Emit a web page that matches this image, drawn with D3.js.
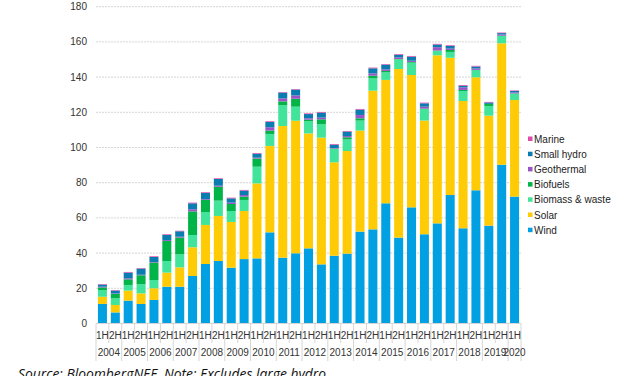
<!DOCTYPE html>
<html lang="en">
<head>
  <meta charset="UTF-8">
  <title>Renewable capacity</title>
  <style>
    body { margin: 0; background: #fff; }
    svg { display: block; font-family: "Liberation Sans", Arial, sans-serif; }
  </style>
</head>
<body>
  <script src="https://d3js.org/d3.v7.min.js"></script>
  <script>
    // data
    const years = ['2004','2005','2006','2007','2008','2009','2010','2011','2012',
      '2013','2014','2015','2016','2017','2018','2019','2020'];
    const halves = years.flatMap(y => y === '2020' ? ['1H'] : ['1H', '2H']);
    const yTicks = [0, 20, 40, 60, 80, 100, 120, 140, 160, 180];

    const wind = [11.1, 6.3, 13.0, 11.1, 13.4, 20.9, 20.9, 27.0, 33.8, 35.5, 31.7, 36.6,
      37.0, 51.8, 37.4, 39.9, 42.7, 33.6, 38.5, 39.7, 52.2, 53.5, 68.3, 48.8, 66.0, 50.7,
      56.9, 73.0, 54.1, 75.7, 55.6, 90.2, 72.1];
    const solar = [4.1, 4.2, 5.7, 6.0, 6.6, 8.0, 11.0, 16.3, 22.2, 25.6, 26.0, 27.3,
      42.6, 49.1, 74.8, 75.3, 65.3, 72.0, 53.1, 58.3, 57.4, 78.8, 70.1, 95.8, 75.2, 64.6,
      95.5, 78.0, 72.3, 64.2, 62.5, 69.0, 54.9];
    const biomass = [3.8, 3.8, 3.2, 5.2, 4.7, 6.6, 7.4, 7.0, 7.3, 8.7, 6.2, 6.3,
      9.5, 6.8, 11.8, 8.0, 6.9, 7.6, 7.6, 6.6, 5.7, 7.0, 4.3, 5.5, 7.0, 6.6,
      2.6, 3.3, 5.7, 4.1, 5.5, 4.2, 3.6];
    const biofuels = [1.5, 2.5, 3.2, 5.1, 9.9, 11.4, 9.5, 13.4, 6.9, 7.9, 4.0, 1.9,
      4.6, 1.9, 2.2, 4.5, 0.9, 2.8, 0.2, 1.2, 1.3, 1.5, 0.8, 0.2, 0.4, 0.2,
      0.1, 1.1, 0.6, 0.1, 1.1, 0.1, 0.1];
    const geothermal = [0.4, 0.3, 0.6, 0.3, 0.3, 0.5, 0.5, 1.2, 0.4, 0.6, 0.8, 0.9,
      0.5, 1.9, 1.7, 1.9, 0.8, 1.0, 0.3, 0.7, 1.9, 1.3, 0.9, 0.9, 0.7, 1.1,
      1.9, 0.8, 1.5, 0.8, 0.1, 0.7, 0.6];
    const smallHydro = [1.2, 1.6, 3.2, 3.5, 2.9, 2.9, 3.1, 3.4, 3.6, 3.8, 2.4, 2.5,
      2.3, 3.0, 3.3, 3.3, 2.4, 2.8, 1.9, 2.5, 3.0, 2.9, 2.7, 1.5, 2.3, 1.9,
      1.5, 1.5, 0.9, 1.1, 0.8, 0.8, 0.8];
    const marine = [0.3, 0.3, 0.4, 0.3, 0.4, 0.4, 0.3, 0.4, 0.4, 0.4, 0.4, 0.4,
      0.4, 0.4, 0.3, 0.3, 0.4, 0.4, 0.4, 0.4, 0.4, 0.4, 0.3, 0.4, 0.4, 0.4,
      0.4, 0.4, 0.4, 0.4, 0.3, 0.3, 0.3];

    const series = [
      { key: 'wind', name: 'Wind', color: '#00a0e2', values: wind },
      { key: 'solar', name: 'Solar', color: '#ffcb05', values: solar },
      { key: 'biomass', name: 'Biomass & waste', color: '#41e49a', values: biomass },
      { key: 'biofuels', name: 'Biofuels', color: '#00b447', values: biofuels },
      { key: 'geothermal', name: 'Geothermal', color: '#9a55c4', values: geothermal },
      { key: 'smallHydro', name: 'Small hydro', color: '#0a7cb0', values: smallHydro },
      { key: 'marine', name: 'Marine', color: '#e04aa8', values: marine }
    ];

    const width = 627, height = 376;
    const plot = { left: 96, right: 521, top: 6.7, bottom: 323.5 };

    const rows = halves.map((h, i) => {
      const r = { i };
      series.forEach(s => r[s.key] = s.values[i]);
      return r;
    });

    const svg = d3.select('body').append('svg')
      .attr('width', width)
      .attr('height', height);

    const xScale = d3.scaleBand()
      .domain(d3.range(halves.length))
      .range([plot.left, plot.right])
      .paddingInner(0.3)
      .paddingOuter(0.15);

    const yScale = d3.scaleLinear()
      .domain([0, 180])
      .range([plot.bottom, plot.top]);

    // gridlines
    svg.append('g')
      .selectAll('line')
      .data(yTicks.slice(1))
      .join('line')
      .attr('x1', plot.left)
      .attr('x2', plot.right)
      .attr('y1', d => yScale(d))
      .attr('y2', d => yScale(d))
      .attr('stroke', '#d6d6d6')
      .attr('stroke-dasharray', '2,1');

    // y labels
    svg.append('g')
      .selectAll('text')
      .data(yTicks)
      .join('text')
      .attr('x', 87)
      .attr('y', d => yScale(d))
      .attr('dy', '0.35em')
      .attr('text-anchor', 'end')
      .attr('font-size', 10)
      .attr('fill', '#333')
      .text(d => d);

    // stacked bars
    const stacked = d3.stack().keys(series.map(s => s.key))(rows);
    svg.append('g')
      .selectAll('g')
      .data(stacked)
      .join('g')
      .attr('fill', (d, i) => series[i].color)
      .selectAll('rect')
      .data(d => d)
      .join('rect')
      .attr('x', d => xScale(d.data.i))
      .attr('y', d => yScale(d[1]))
      .attr('width', xScale.bandwidth())
      .attr('height', d => yScale(d[0]) - yScale(d[1]));

    // category axis
    const axis = svg.append('g');
    axis.append('line')
      .attr('x1', plot.left).attr('x2', plot.right)
      .attr('y1', plot.bottom).attr('y2', plot.bottom)
      .attr('stroke', '#d6d6d6');

    const step = xScale.step();
    const bandEdge = i => plot.left + i * step;

    axis.selectAll('line.tick')
      .data(d3.range(halves.length + 1))
      .join('line')
      .attr('class', 'tick')
      .attr('x1', i => bandEdge(i)).attr('x2', i => bandEdge(i))
      .attr('y1', plot.bottom).attr('y2', 343)
      .attr('stroke', '#d6d6d6');

    axis.selectAll('text.half')
      .data(halves)
      .join('text')
      .attr('class', 'half')
      .attr('x', (d, i) => bandEdge(i) + step / 2)
      .attr('y', 339)
      .attr('text-anchor', 'middle')
      .attr('font-size', 10)
      .attr('fill', '#333')
      .text(d => d);

    const yearStart = years.map((y, k) => 2 * k);
    axis.selectAll('line.year')
      .data(yearStart.concat([halves.length]))
      .join('line')
      .attr('class', 'year')
      .attr('x1', i => bandEdge(i)).attr('x2', i => bandEdge(i))
      .attr('y1', 343).attr('y2', 361)
      .attr('stroke', '#d6d6d6');

    axis.selectAll('text.year')
      .data(years)
      .join('text')
      .attr('class', 'year')
      .attr('x', (d, k) => {
        const n = d === '2020' ? 1 : 2;
        return bandEdge(2 * k) + n * step / 2;
      })
      .attr('y', 355.5)
      .attr('text-anchor', 'middle')
      .attr('font-size', 10)
      .attr('fill', '#333')
      .text(d => d);

    // legend, top to bottom is the reverse of the stack
    const legend = svg.append('g')
      .selectAll('g')
      .data(series.slice().reverse())
      .join('g')
      .attr('transform', (d, i) => `translate(528, ${139 + i * 15.2})`);
    legend.append('rect')
      .attr('x', 0).attr('y', -2.5)
      .attr('width', 4.5).attr('height', 4.5)
      .attr('fill', d => d.color);
    legend.append('text')
      .attr('x', 6)
      .attr('dy', '0.35em')
      .attr('font-size', 10)
      .attr('fill', '#222')
      .text(d => d.name);

    // source note, cut by the bottom edge
    svg.append('text')
      .attr('x', 18)
      .attr('y', 379)
      .attr('font-family', '"Open Sans", "Noto Sans", sans-serif')
      .attr('font-style', 'italic')
      .attr('font-size', 14)
      .attr('fill', '#111')
      .attr('textLength', 308)
      .attr('lengthAdjust', 'spacingAndGlyphs')
      .text('Source: BloombergNEF. Note: Excludes large hydro');
  </script>
</body>
</html>
